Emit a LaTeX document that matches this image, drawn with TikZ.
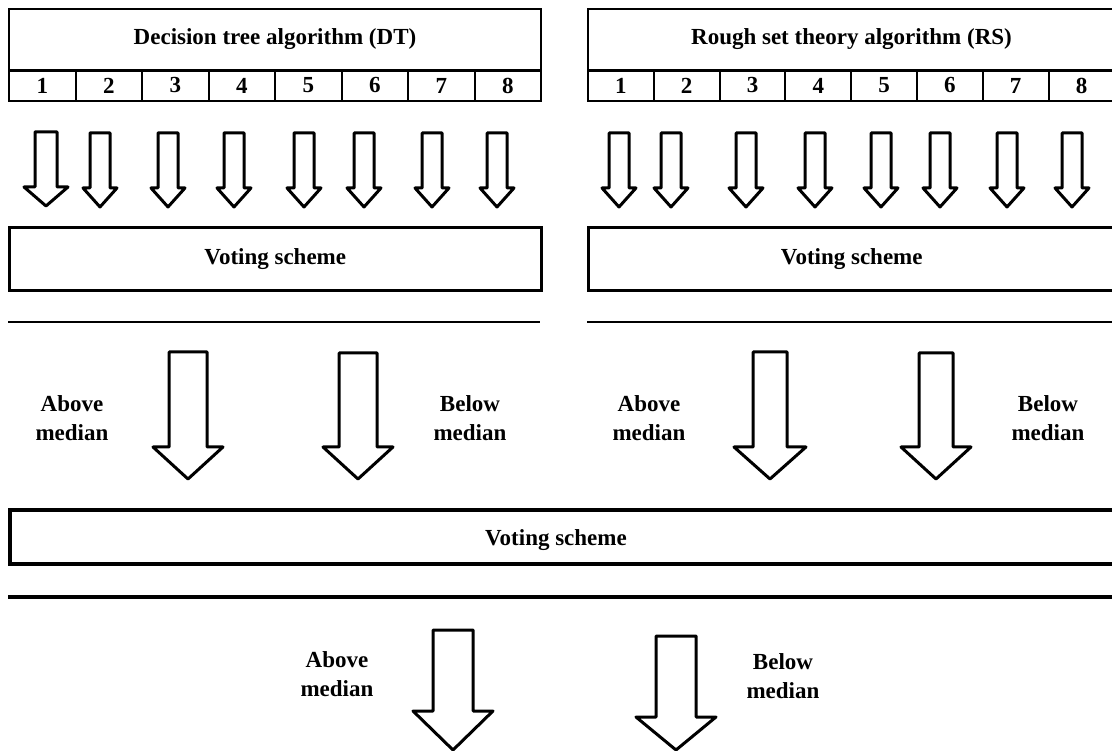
\documentclass[tikz,border=0pt]{standalone}
\usepackage{fontspec}
\setmainfont{Liberation Serif}
\tikzset{
  lbl/.style={font=\bfseries\fontsize{23}{29}\selectfont, align=center, inner sep=0pt},
  boxx/.style={draw, line width=2pt, inner sep=0pt, anchor=north west},
  barw/.style={draw, line width=3pt, line join=round, fill=white},
  sepline/.style={line width=2.5pt},
}
\newcommand{\blockarr}[6]{\draw[barw] ({#1-#5},#2) -- ({#1+#5},#2) -- ({#1+#5},#3) -- ({#1+#6},#3) -- (#1,#4) -- ({#1-#6},#3) -- ({#1-#5},#3) -- cycle;}
\begin{document}
\begin{tikzpicture}[x=1pt,y=-1pt]
\useasboundingbox (0,0) rectangle (1112,751);
% ---- top boxes
\node[boxx, lbl, minimum width=532pt, minimum height=61pt] (dt) at (8,8) {Decision tree algorithm (DT)};
\node[boxx, lbl, minimum width=527pt, minimum height=61pt] (rs) at (587,8) {Rough set theory algorithm (RS)};
\foreach \i in {1,...,8}{
  \node[boxx, lbl, minimum width=66.5pt, minimum height=31pt] (dtc\i) at ({8+66.5*(\i-1)},69) {\i};
  \node[boxx, lbl, minimum width=65.8pt, minimum height=31pt] (rsc\i) at ({587+65.8*(\i-1)},69) {\i};
}
\draw[line width=3pt] (dt.south west) -- (dt.south east);
\draw[line width=3pt] (rs.south west) -- (rs.south east);
% ---- small arrows
\blockarr{46}{132}{187}{206}{11}{22}
\foreach \x in {100,168,234,304,364,432,497}{\blockarr{\x}{133}{188}{207}{10}{17}}
\foreach \x in {619,671,746,815,881,940,1007,1072}{\blockarr{\x}{133}{188}{207}{10}{17}}
% ---- voting boxes
\node[boxx, lbl, line width=2.6pt, minimum width=532pt, minimum height=63pt] (vdt) at (8,226) {Voting scheme};
\node[boxx, lbl, line width=2.6pt, minimum width=527pt, minimum height=63pt] (vrs) at (587,226) {Voting scheme};
\coordinate (l1a) at (8,322); \coordinate (l1b) at (540,322);
\coordinate (l2a) at (587,322); \coordinate (l2b) at (1114,322);
\draw[sepline] (l1a) -- (l1b);
\draw[sepline] (l2a) -- (l2b);
% ---- medium arrows
\blockarr{188}{352}{447}{479}{19}{35}
\blockarr{358}{353}{447}{479}{19}{35}
\blockarr{770}{352}{447}{479}{17}{36}
\blockarr{936}{353}{447}{479}{17}{35}
\node[lbl] (am1) at (72,418) {Above\\median};
\node[lbl] (bm1) at (470,418) {Below\\median};
\node[lbl] (am2) at (649,418) {Above\\median};
\node[lbl] (bm2) at (1048,418) {Below\\median};
% ---- final voting
\node[boxx, lbl, line width=3.5pt, minimum width=1110pt, minimum height=54pt] (vall) at (8,508) {};
\node[lbl] (vallt) at (556,540) {Voting scheme};
\coordinate (l3a) at (8,597); \coordinate (l3b) at (1114,597);
\draw[line width=4pt] (l3a) -- (l3b);
% ---- bottom arrows
\blockarr{453}{630}{711}{750}{20}{40}
\blockarr{676}{636}{717}{750}{20}{40}
\node[lbl] (am3) at (337,674) {Above\\median};
\node[lbl] (bm3) at (783,676) {Below\\median};
\end{tikzpicture}
\end{document}
